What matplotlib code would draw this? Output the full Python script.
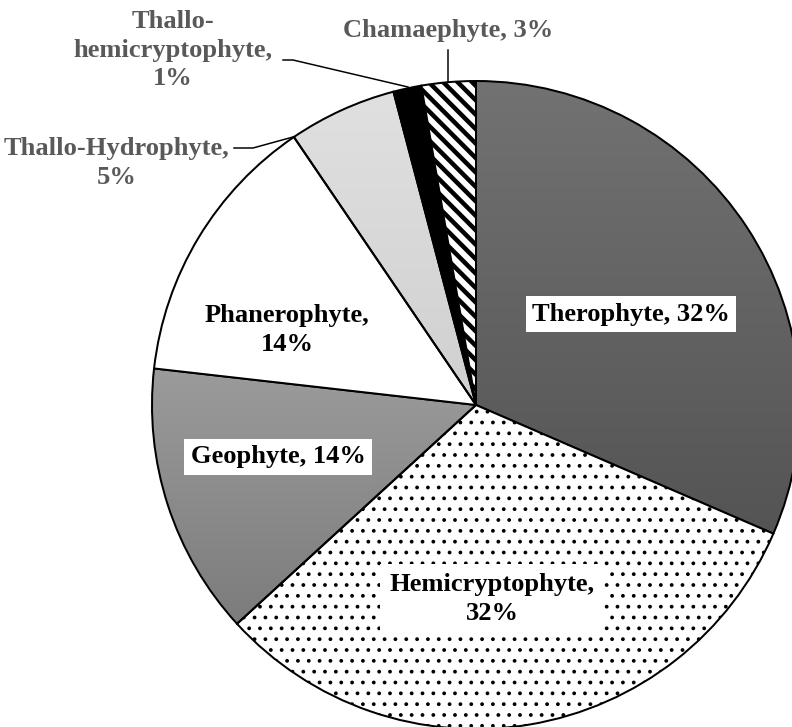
import numpy as np
import matplotlib.pyplot as plt
from matplotlib.colors import LinearSegmentedColormap

# life-form spectrum (%)
life_forms = ['Therophyte', 'Hemicryptophyte', 'Geophyte', 'Phanerophyte',
              'Thallo-Hydrophyte', 'Thallo-hemicryptophyte', 'Chamaephyte']
shares = [31.5, 31.7, 13.6, 13.7, 5.4, 1.4, 2.7]

W, H, DPI = 792, 727, 130
PX = 72 / DPI  # points per pixel

plt.rcParams['font.family'] = ['Liberation Serif', 'DejaVu Serif']

fig = plt.figure(figsize=(W / DPI, H / DPI), dpi=DPI)
ax = fig.add_axes([0, 0, 1, 1])

cx, cy, r = 476, H - 405, 324
wedges, _ = ax.pie(shares, center=(cx, cy), radius=r, startangle=90,
                   counterclock=False,
                   wedgeprops=dict(edgecolor='black', linewidth=2 * PX))


def gradient_fill(wedge, top, bottom):
    x0, y0, x1, y1 = wedge.get_path().get_extents().extents
    cmap = LinearSegmentedColormap.from_list('g', [bottom, top])
    grad = np.linspace(0, 1, 256).reshape(-1, 1)
    im = ax.imshow(grad, cmap=cmap, extent=(x0, x1, y0, y1), origin='lower',
                   aspect='auto', zorder=wedge.get_zorder() - 0.1,
                   interpolation='bilinear')
    im.set_clip_path(wedge)
    wedge.set_facecolor('none')


gradient_fill(wedges[0], '#727272', '#545454')
gradient_fill(wedges[2], '#9b9b9b', '#7c7c7c')
gradient_fill(wedges[4], '#e0e0e0', '#d0d0d0')

wedges[1].set_facecolor('white')
wedges[1].set_hatch('..')
wedges[3].set_facecolor('white')
wedges[5].set_facecolor('black')
wedges[6].set_facecolor('white')
wedges[6].set_hatch('\\\\\\')
if hasattr(wedges[6], 'set_hatch_linewidth'):
    wedges[6].set_hatch_linewidth(4.5 * PX)
    wedges[1].set_hatch_linewidth(1.6 * PX)

ax.set_xlim(0, W)
ax.set_ylim(0, H)
ax.set_aspect('equal')
ax.axis('off')

pct = [int(v / sum(shares) * 100 + 0.5) for v in shares]
fs = 26.5 * PX
ls = 1.3

# labels inside the pie, with white boxes
inside = {0: ((631, 314), '{}, {}%', 6),
          1: ((492, 599), '{},\n{}%', 9),
          2: ((278, 457), '{}, {}%', 6),
          3: ((287, 330), '{},\n{}%', None)}
for i, ((x, y), fmt, pad) in inside.items():
    box = dict(facecolor='white', edgecolor='none', pad=pad * PX) if pad else None
    ax.text(x, H - y, fmt.format(life_forms[i], pct[i]), ha='center', va='center',
            fontsize=fs, fontweight='bold', color='black', linespacing=ls,
            bbox=box, zorder=5)

# outer labels with leader lines
grey = '#595959'
ax.text(117, H - 163, '{},\n{}%'.format(life_forms[4], pct[4]), ha='center', va='center',
        fontsize=fs, fontweight='bold', color=grey, linespacing=ls)
ax.text(173, H - 50, 'Thallo-\nhemicryptophyte,\n{}%'.format(pct[5]), ha='center',
        va='center', fontsize=fs, fontweight='bold', color=grey, linespacing=ls)
ax.text(448, H - 30, '{}, {}%'.format(life_forms[6], pct[6]), ha='center', va='center',
        fontsize=fs, fontweight='bold', color=grey)

lw = 1.5 * PX
ax.plot([234, 253, 293], [H - 148, H - 148, H - 137], color='black', lw=lw)
ax.plot([283, 293, 408], [H - 60, H - 60, H - 87], color='black', lw=lw)
ax.plot([448, 448], [H - 50, H - 82], color='black', lw=lw)

fig.savefig('out.png', dpi=DPI)
